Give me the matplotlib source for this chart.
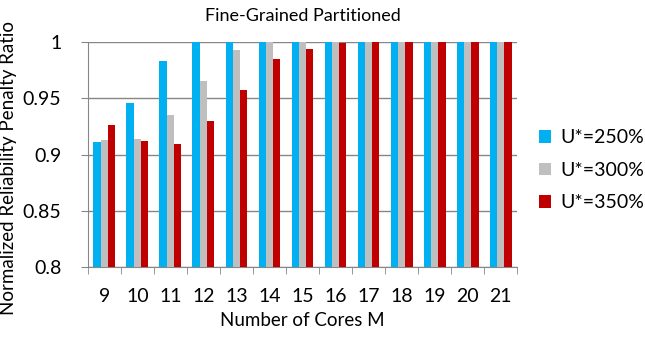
import matplotlib
matplotlib.use('Agg')
import matplotlib.pyplot as plt
import numpy as np

plt.rcParams['font.family'] = ['Lato', 'DejaVu Sans']

cores = [9, 10, 11, 12, 13, 14, 15, 16, 17, 18, 19, 20, 21]
u250 = [0.911, 0.946, 0.983, 1.0, 1.0, 1.0, 1.0, 1.0, 1.0, 1.0, 1.0, 1.0, 1.0]
u300 = [0.913, 0.914, 0.935, 0.965, 0.993, 1.0, 1.0, 1.0, 1.0, 1.0, 1.0, 1.0, 1.0]
u350 = [0.926, 0.912, 0.909, 0.930, 0.957, 0.985, 0.994, 0.999, 1.0, 1.0, 1.0, 1.0, 1.0]
labels = ['U*=250%', 'U*=300%', 'U*=350%']
colors = ['#00B0F0', '#BFBFBF', '#C00000']

fig = plt.figure(figsize=(6.45, 3.37), dpi=100)
ax = fig.add_axes([0.136, 0.208, 0.666, 0.667])

x = np.arange(len(cores))
w = 0.22
for i, (vals, lab, c) in enumerate(zip([u250, u300, u350], labels, colors)):
    ax.bar(x + (i - 1) * w, vals, width=w, color=c, label=lab, zorder=3)

ax.set_ylim(0.8, 1.0)
ax.set_xlim(-0.5, len(cores) - 0.5)
ax.set_yticks([0.8, 0.85, 0.9, 0.95, 1.0])
ax.set_yticklabels(['0.8', '0.85', '0.9', '0.95', '1'], fontsize=14)
ax.set_xticks(x)
ax.set_xticklabels([str(c) for c in cores], fontsize=14)
ax.set_xticks(np.arange(-0.5, len(cores)), minor=True)
ax.tick_params(axis='x', which='major', length=0, pad=15)
ax.tick_params(axis='x', which='minor', length=5, color='#868686')
ax.tick_params(axis='y', length=5, color='#868686', direction='out', pad=14)
ax.yaxis.grid(True, color='#868686', linewidth=1, zorder=0)

for s in ['top', 'right']:
    ax.spines[s].set_visible(False)
for s in ['left', 'bottom']:
    ax.spines[s].set_color('#868686')

ax.set_title('Fine-Grained Partitioned', fontsize=13, pad=15)
ax.set_xlabel('Number of Cores M', fontsize=13.5, labelpad=5)
ax.set_ylabel('Normalized Reliability Penalty Ratio', fontsize=13.5)
ax.yaxis.set_label_coords(-0.165, 0.44)

ax.legend(loc='center left', bbox_to_anchor=(1.01, 0.43), frameon=False,
          fontsize=14, handlelength=0.6, handleheight=0.6, handletextpad=0.5,
          labelspacing=0.8)

fig.savefig('out.png', dpi=100)
